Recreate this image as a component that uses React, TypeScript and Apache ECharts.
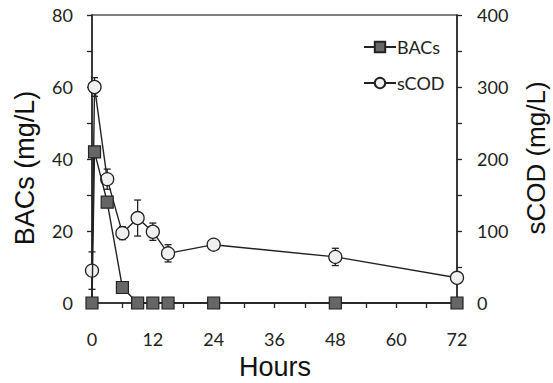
import React, { useEffect, useRef } from "react";
import * as echarts from "echarts";

const bacsHours = [0, 0.5, 3, 6, 9, 12, 15, 24, 48, 72];
const bacsValues = [0, 42, 28, 4.3, 0, 0, 0, 0, 0, 0];
const bacsErrors = [0, 1, 1, 0.5, 0, 0, 0, 0, 0, 0];

const scodHours = [0, 0.5, 3, 6, 9, 12, 15, 24, 48, 72];
const scodValues = [45, 300, 172, 97, 118, 99, 69, 81, 64, 35];
const scodErrors = [26, 13, 14, 9, 25, 12, 12, 4, 12, 4];

const xTickLabels = [0, 12, 24, 36, 48, 60, 72];
const leftTickLabels = [0, 20, 40, 60, 80];
const rightTickLabels = [0, 100, 200, 300, 400];

const LABEL_FONT = "Lato, 'Open Sans', sans-serif";
const TITLE_FONT = "'Liberation Sans', Arial, sans-serif";

function errorBarSeries(hours: number[], values: number[], errs: number[], yAxisIndex: number) {
  return {
    type: "custom",
    yAxisIndex,
    z: 1,
    silent: true,
    data: hours.map((h, i) => [h, values[i], errs[i]]),
    renderItem: (params: any, api: any) => {
      const x = api.value(0);
      const y = api.value(1);
      const e = api.value(2);
      if (!e) return { type: "group", children: [] };
      const top = api.coord([x, y + e]);
      const bot = api.coord([x, y - e]);
      const cw = 3.5;
      const style = { stroke: "#222", lineWidth: 1.3 };
      return {
        type: "group",
        children: [
          { type: "line", shape: { x1: top[0], y1: top[1], x2: bot[0], y2: bot[1] }, style },
          { type: "line", shape: { x1: top[0] - cw, y1: top[1], x2: top[0] + cw, y2: top[1] }, style },
          { type: "line", shape: { x1: bot[0] - cw, y1: bot[1], x2: bot[0] + cw, y2: bot[1] }, style },
        ],
      };
    },
  };
}

export default function App() {
  const ref = useRef<HTMLDivElement>(null);
  useEffect(() => {
    if (!ref.current) return;
    const chart = echarts.init(ref.current, undefined, { renderer: "svg" });
    const tickFmt = (list: number[]) => (v: number) => (list.includes(v) ? String(v) : "");
    chart.setOption({
      animation: false,
      backgroundColor: "#ffffff",
      grid: {
        left: 92,
        right: 96,
        top: 15,
        bottom: 80,
        show: true,
        borderColor: "#555",
        borderWidth: 1.5,
        backgroundColor: "transparent",
      },
      legend: {
        orient: "vertical",
        left: 358,
        top: 33,
        itemGap: 18,
        itemWidth: 32,
        itemHeight: 13,
        textStyle: { fontFamily: LABEL_FONT, fontSize: 18, color: "#222", padding: [0, 0, 0, -4] },
        data: ["BACs", "sCOD"],
      },
      xAxis: {
        type: "value",
        min: 0,
        max: 72,
        interval: 6,
        splitLine: { show: false },
        axisLine: { show: true, onZero: false, lineStyle: { color: "#222", width: 1.5 } },
        axisTick: { show: true, inside: false, length: 5, lineStyle: { color: "#222", width: 1.3 } },
        axisLabel: {
          formatter: tickFmt(xTickLabels),
          fontFamily: LABEL_FONT,
          fontSize: 18,
          color: "#222",
          margin: 27,
        },
      },
      yAxis: [
        {
          type: "value",
          min: 0,
          max: 80,
          interval: 10,
          position: "left",
          splitLine: { show: false },
          axisLine: { show: true, onZero: false, lineStyle: { color: "#222", width: 1.5 } },
          axisTick: { show: true, length: 5, lineStyle: { color: "#222", width: 1.3 } },
          axisLabel: {
            formatter: tickFmt(leftTickLabels),
            fontFamily: LABEL_FONT,
            fontSize: 18,
            color: "#222",
            margin: 19,
          },
        },
        {
          type: "value",
          min: 0,
          max: 400,
          interval: 50,
          position: "right",
          splitLine: { show: false },
          axisLine: { show: true, onZero: false, lineStyle: { color: "#222", width: 1.5 } },
          axisTick: { show: true, length: 5, lineStyle: { color: "#222", width: 1.3 } },
          axisLabel: {
            formatter: tickFmt(rightTickLabels),
            fontFamily: LABEL_FONT,
            fontSize: 18,
            color: "#222",
            margin: 20,
          },
        },
      ],
      graphic: [
        {
          type: "text",
          x: 25,
          y: 168,
          rotation: Math.PI / 2,
          style: {
            text: "BACs (mg/L)",
            font: `27px ${TITLE_FONT}`,
            fill: "#111",
            align: "center",
            verticalAlign: "middle",
          },
        },
        {
          type: "text",
          x: 536,
          y: 158,
          rotation: Math.PI / 2,
          style: {
            text: "sCOD (mg/L)",
            font: `26px ${TITLE_FONT}`,
            fill: "#111",
            align: "center",
            verticalAlign: "middle",
          },
        },
        {
          type: "text",
          x: 275,
          y: 367,
          style: {
            text: "Hours",
            font: `27px ${TITLE_FONT}`,
            fill: "#111",
            align: "center",
            verticalAlign: "middle",
          },
        },
      ],
      series: [
        errorBarSeries(scodHours, scodValues, scodErrors, 1),
        errorBarSeries(bacsHours, bacsValues, bacsErrors, 0),
        {
          name: "sCOD",
          type: "line",
          yAxisIndex: 1,
          z: 3,
          data: scodHours.map((h, i) => [h, scodValues[i]]),
          symbol: "circle",
          symbolSize: 13,
          showAllSymbol: true,
          lineStyle: { color: "#222", width: 1.4 },
          itemStyle: { color: "#f0f0f0", borderColor: "#222", borderWidth: 1.3 },
        },
        {
          name: "BACs",
          type: "line",
          yAxisIndex: 0,
          z: 4,
          data: bacsHours.map((h, i) => [h, bacsValues[i]]),
          symbol: "rect",
          symbolSize: 12,
          showAllSymbol: true,
          lineStyle: { color: "#222", width: 1.4 },
          itemStyle: { color: "#666", borderColor: "#222", borderWidth: 1.2 },
        },
      ],
    });
    return () => chart.dispose();
  }, []);
  return <div ref={ref} style={{ width: 553, height: 383, position: "absolute", left: 0, top: 0 }} />;
}
